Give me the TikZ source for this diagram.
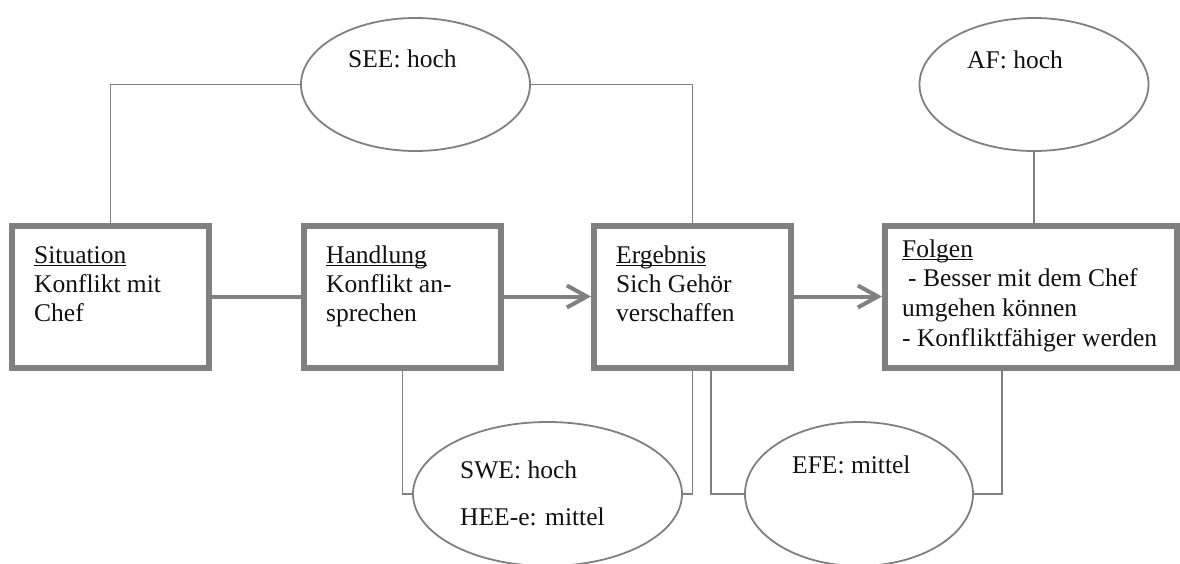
\documentclass[tikz,border=0pt]{standalone}
\usepackage{fontspec}
\setmainfont{Liberation Serif}
\usetikzlibrary{arrows.meta,shapes.geometric}

\definecolor{linegray}{HTML}{808080}
\definecolor{inkblack}{HTML}{111111}

% underline at a fixed depth, independent of descenders
\newcommand{\ulword}[1]{\setbox0\hbox{#1}\rlap{\rule[-3pt]{\wd0}{1.3pt}}\box0}

\tikzset{
  stagebox/.style={draw=linegray, line width=6pt, rectangle, inner sep=0pt, minimum height=142pt},
  ratingoval/.style={draw=linegray, line width=1.8pt, ellipse, inner sep=0pt},
  link/.style={draw=linegray, line width=1.8pt},
  flow/.style={draw=linegray, line width=4pt},
  flowarrow/.style={flow, -{Straight Barb[length=20pt,width=22pt]}},
  boxtext/.style={anchor=base west, inner sep=0pt, text=inkblack,
    font=\fontsize{25.5pt}{29pt}\selectfont},
  foltext/.style={boxtext, font=\fontsize{25.5pt}{29.7pt}\selectfont},
}

\begin{document}
\begin{tikzpicture}[x=1pt, y=-1pt]
  \fill[white] (0,0) rectangle (1180,563);
  \useasboundingbox (0,0) rectangle (1180,563);

  % stages
  \node[stagebox, minimum width=197pt] (sit)  at (110.5,296.5) {};
  \node[stagebox, minimum width=197pt] (hand) at (402.5,296.5) {};
  \node[stagebox, minimum width=197pt] (erg)  at (692.5,296.5) {};
  \node[stagebox, minimum width=292pt] (fol)  at (1031,296.5) {};

  \node[boxtext] (sittext) at (34,263)
    {\begin{tabular}[t]{@{}l@{}}\ulword{Situation}\\Konflikt mit\\Chef\end{tabular}};
  \node[boxtext] (handtext) at (326,263)
    {\begin{tabular}[t]{@{}l@{}}\ulword{Handlung}\\Konflikt an-\\sprechen\end{tabular}};
  \node[boxtext] (ergtext) at (616,263)
    {\begin{tabular}[t]{@{}l@{}}\ulword{Ergebnis}\\Sich Gehör\\verschaffen\end{tabular}};
  \node[foltext] (foltext) at (902,257)
    {\begin{tabular}[t]{@{}l@{}}\ulword{Folgen}\\\hspace*{6pt}- Besser mit dem Chef\\umgehen können\\- Konfliktfähiger werden\end{tabular}};

  % ratings
  \node[ratingoval, minimum width=229pt, minimum height=133pt] (see) at (415.5,84.5) {};
  \node[ratingoval, minimum width=229pt, minimum height=133pt] (af)  at (1034,84.5) {};
  \node[ratingoval, minimum width=269pt, minimum height=144pt] (swe) at (547.5,494) {};
  \node[ratingoval, minimum width=228pt, minimum height=144pt] (efe) at (859,494) {};

  \node[boxtext] (seetext) at (348,67) {SEE: hoch};
  \node[boxtext] (aftext)  at (967,68) {AF: hoch};
  \node[boxtext] (swetext) at (460,478)
    {\begin{tabular}[t]{@{}l@{}}SWE: hoch\\[18pt]HEE-e: mittel\end{tabular}};
  \node[boxtext] (efetext) at (792,473) {EFE: mittel};

  % connectors
  \draw[link] (sit.north) |- (see.west);
  \draw[link] (see.east) -| (erg.north);
  \draw[link] (af.south) -- (af.south |- fol.north);
  \draw[link] (hand.south) |- (swe.west);
  \draw[link] (swe.east) -| (erg.south);
  \draw[link] ([xshift=18.5pt]erg.south) |- (efe.west);
  \draw[link] (efe.east) -| ([xshift=-29pt]fol.south);

  \draw[flow] (sit.east) -- (hand.west);
  \draw[flowarrow] (hand.east) -- (erg.west);
  \draw[flowarrow] (erg.east) -- (fol.west);
\end{tikzpicture}
\end{document}
